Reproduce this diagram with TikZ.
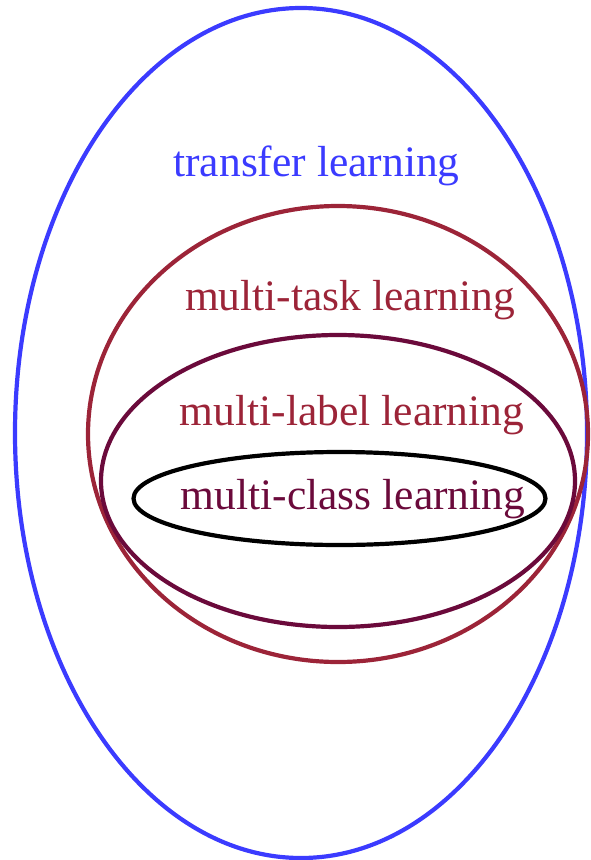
\documentclass[tikz,border=0pt]{standalone}
\usepackage{fontspec}
\setmainfont{Liberation Serif}
\definecolor{TransferClr}{rgb}{0.23,0.23,1}
\definecolor{TaskClr}{rgb}{0.61,0.14,0.22}
\definecolor{LabelClr}{rgb}{0.42,0.04,0.23}

\begin{document}
\begin{tikzpicture}[x=1pt,y=-1pt,
  setline/.style={line width=4.2pt},
  setlabel/.style={anchor=base,inner sep=0pt,font=\fontsize{43.5}{48}\selectfont}]
\useasboundingbox (0,0) rectangle (590,860);

\coordinate (T) at (301,433);
\coordinate (K) at (338,434);
\coordinate (L) at (338,481);
\coordinate (C) at (339.5,498.5);

\draw[setline,TransferClr] (T) ellipse [x radius=286, y radius=425];
\draw[setline,TaskClr] (K) ellipse [x radius=250, y radius=228];
\draw[setline,LabelClr] (L) ellipse [x radius=237, y radius=146];
\draw[setline,black] (C) ellipse [x radius=206, y radius=46.5];

\node[setlabel,TransferClr] (transfer) at (316.5,176) {transfer learning};
\node[setlabel,TaskClr] (task) at (350,310) {multi-task learning};
\node[setlabel,TaskClr] (label) at (352,425) {multi-label learning};
\node[setlabel,LabelClr] (class) at (353,509) {multi-class learning};

\end{tikzpicture}
\end{document}
